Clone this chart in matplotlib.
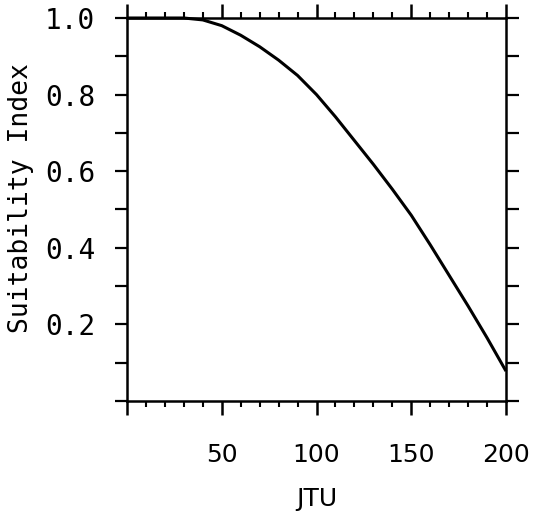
import matplotlib
matplotlib.use("Agg")
import matplotlib.pyplot as plt
import numpy as np

# Suitability index curve
jtu = [0, 10, 20, 30, 40, 50, 60, 70, 80, 90, 100, 110, 120, 130, 140,
       150, 160, 170, 180, 190, 200]
si = [1.0, 1.0, 1.0, 1.0, 0.995, 0.98, 0.955, 0.925, 0.89, 0.85, 0.80,
      0.742, 0.68, 0.618, 0.553, 0.485, 0.408, 0.328, 0.248, 0.165, 0.078]

x_ticks = [0, 50, 100, 150, 200]
x_labels = ["", "50", "100", "150", "200"]
y_ticks = [0, 0.2, 0.4, 0.6, 0.8, 1.0]
y_labels = ["", "0.2", "0.4", "0.6", "0.8", "1.0"]

sans = ["DejaVu Sans"]
mono = ["DejaVu Sans Mono"]

fig = plt.figure(figsize=(5.49, 5.16), dpi=100)
ax = fig.add_axes([127 / 549, 1 - 401 / 516, 379 / 549, 383 / 516])

ax.plot(jtu, si, color="black", lw=2.2, solid_capstyle="butt",
        solid_joinstyle="round", clip_on=False)

ax.set_xlim(0, 200)
ax.set_ylim(0, 1.0)

ax.set_xticks(x_ticks)
ax.set_xticklabels(x_labels, family=sans, fontsize=18)
ax.set_xticks(np.arange(0, 201, 10), minor=True)
ax.set_yticks(y_ticks)
ax.set_yticklabels(y_labels, family=mono, fontsize=20)
ax.set_yticks(np.arange(0.1, 1.0, 0.2), minor=True)

for s in ax.spines.values():
    s.set_linewidth(1.8)

ax.tick_params(axis="x", which="major", direction="out", length=10, width=1.8,
               top=True, bottom=True, pad=20)
ax.tick_params(axis="x", which="minor", direction="out", length=4, width=1.5,
               top=True, bottom=True)
ax.tick_params(axis="y", which="both", direction="out", length=9, width=1.6,
               left=True, right=True, pad=14)

ax.set_xlabel("JTU", family=sans, fontsize=18)
ax.xaxis.set_label_coords(0.5, -0.225)
ax.set_ylabel("Suitability Index", family=mono, fontsize=19)
ax.yaxis.set_label_coords(-0.245, 0.53)

fig.savefig("out.png", dpi=100)
